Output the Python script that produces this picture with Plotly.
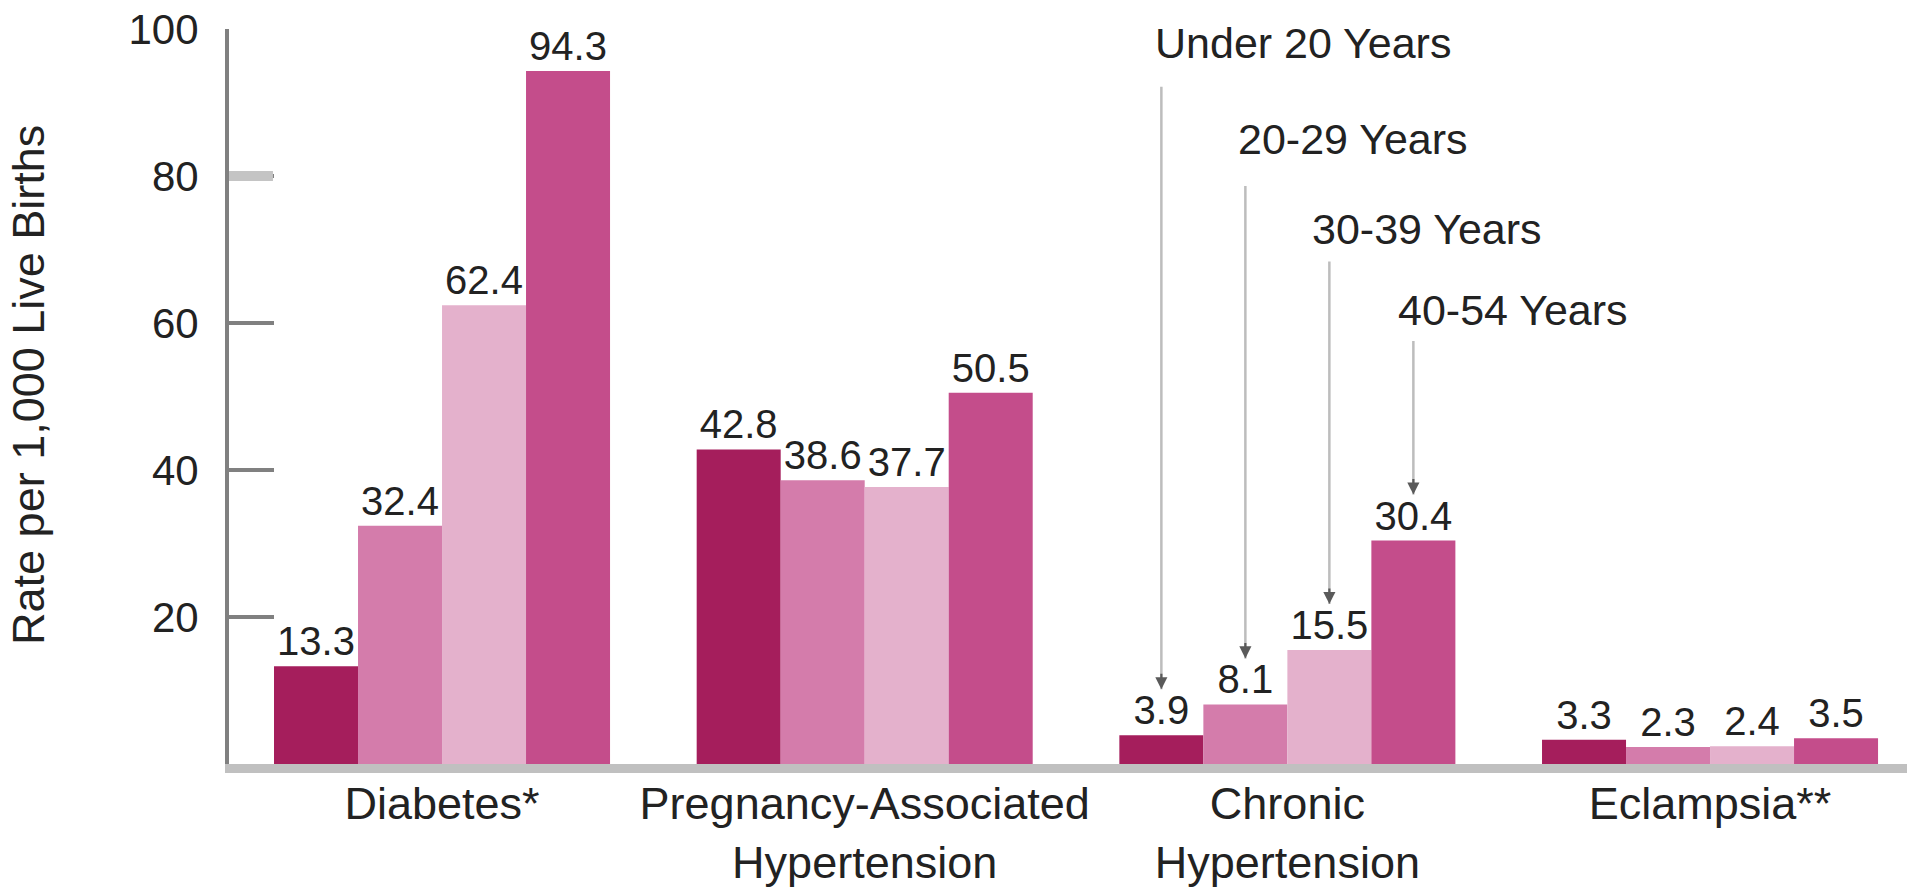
import plotly.graph_objects as go

# Rates per 1,000 live births by maternal age group
categories = ["Diabetes*", "Pregnancy-Associated<br>Hypertension",
              "Chronic<br>Hypertension", "Eclampsia**"]
age_groups = ["Under 20 Years", "20-29 Years", "30-39 Years", "40-54 Years"]
under_20 = [13.3, 42.8, 3.9, 3.3]
age_20_29 = [32.4, 38.6, 8.1, 2.3]
age_30_39 = [62.4, 37.7, 15.5, 2.4]
age_40_54 = [94.3, 50.5, 30.4, 3.5]
y_ticks = [20, 40, 60, 80, 100]

series = [under_20, age_20_29, age_30_39, age_40_54]
colors = ["#A51E5C", "#D47CAB", "#E4B1CC", "#C44D8B"]

FONT = "Liberation Sans Narrow, Arial Narrow, Liberation Sans, Arial, sans-serif"
TEXT = "#222222"

BARGAP = 0.205
x_idx = list(range(len(categories)))

fig = go.Figure()
for name, vals, col in zip(age_groups, series, colors):
    fig.add_trace(go.Bar(
        x=x_idx, y=vals, name=name,
        marker=dict(color=col, line=dict(width=0)),
        texttemplate="%{y:.1f}", textposition="outside",
        textfont=dict(family=FONT, size=40, color=TEXT),
        constraintext="none", cliponaxis=False,
        showlegend=False, hoverinfo="skip",
    ))

# Callouts naming each age group, pointing at the Chronic Hypertension bars
n = len(age_groups)
bar_w = (1 - BARGAP) / n
callout_cat = 2
label_y = [0.9816, 0.851, 0.7279, 0.6177]      # paper y of the callout text
label_dx = [-8, -9, -19, -17]                   # text start relative to the arrow
line_len = [604, 474, 344, 155]                 # arrow shaft length in px
annotations = []
for j, name in enumerate(age_groups):
    xc = callout_cat + (j - (n - 1) / 2) * bar_w
    val = series[j][callout_cat]
    annotations.append(dict(
        x=xc, y=label_y[j], xref="x", yref="paper", text=name,
        xanchor="left", yanchor="middle", xshift=label_dx[j], showarrow=False,
        font=dict(family=FONT, size=43, color=TEXT)))
    # shaft
    annotations.append(dict(
        x=xc, y=val, xref="x", yref="y", text="", yshift=46,
        showarrow=True, arrowhead=0, arrowwidth=2.5, arrowcolor="#BDBDBD",
        ax=0, ay=-line_len[j], standoff=0, startstandoff=0))
    # head
    annotations.append(dict(
        x=xc, y=val, xref="x", yref="y", text="", yshift=46,
        showarrow=True, arrowhead=2, arrowsize=1.1, arrowwidth=2.2,
        arrowcolor="#5A5A5A", ax=0, ay=-17, standoff=0, startstandoff=0))

# Axis title
annotations.append(dict(
    x=-0.1192, y=0.5157, xref="paper", yref="paper",
    text="Rate per 1,000 Live Births", textangle=-90, showarrow=False,
    xanchor="center", yanchor="middle",
    font=dict(family=FONT, size=45, color=TEXT)))

fig.update_layout(
    width=1907, height=890,
    margin=dict(l=229, r=0, t=29, b=126, pad=0),
    paper_bgcolor="white", plot_bgcolor="white",
    barmode="group", bargap=BARGAP, bargroupgap=0,
    annotations=annotations,
    shapes=[dict(type="line", xref="paper", yref="y", x0=0.0, x1=0.0262,
                 y0=80, y1=80, line=dict(color="#C4C4C4", width=10),
                 layer="above")],
)

fig.update_xaxes(
    range=[-0.504, 3.466], tickvals=x_idx, ticktext=categories,
    showgrid=False, zeroline=False, ticks="", ticklen=0,
    showline=True, linecolor="#C0C0C0", linewidth=9, layer="below traces",
    tickfont=dict(family=FONT, size=45, color=TEXT),
    ticklabelstandoff=-8, automargin=False, fixedrange=True,
)
fig.update_yaxes(
    range=[0, 100], tickvals=y_ticks, ticktext=[str(t) for t in y_ticks],
    showgrid=False, zeroline=False,
    showline=True, linecolor="#808080", linewidth=4,
    ticks="inside", ticklen=45, tickwidth=4, tickcolor="#808080",
    tickfont=dict(family=FONT, size=42, color=TEXT),
    ticklabelstandoff=18, layer="below traces", automargin=False,
    fixedrange=True,
)

fig.write_html("out.html")
